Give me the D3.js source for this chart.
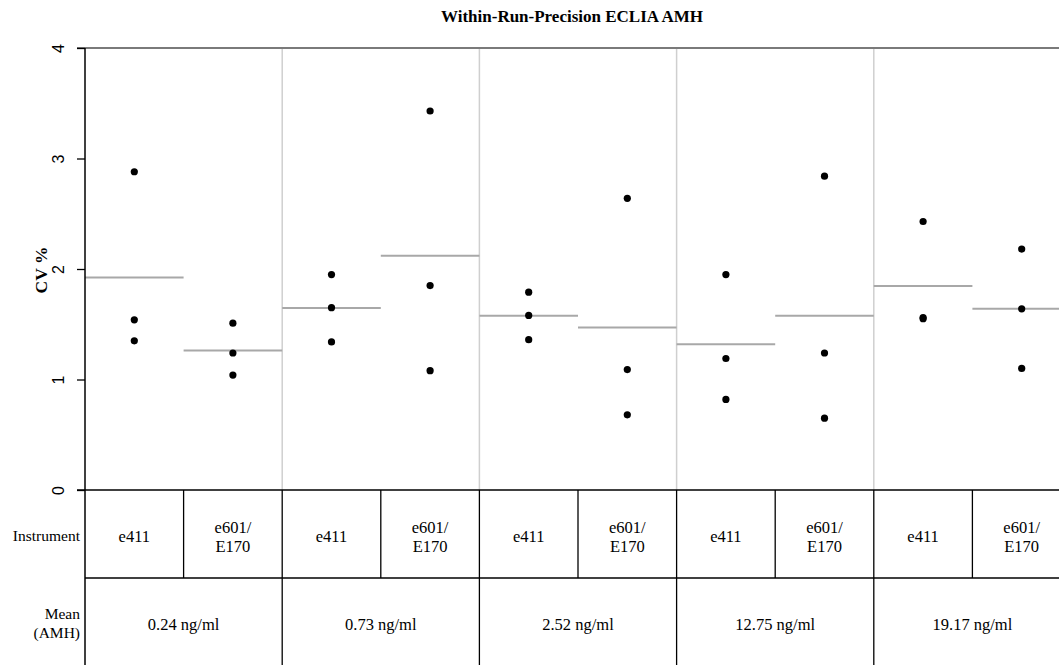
<!DOCTYPE html>
<html>
<head>
<meta charset="utf-8">
<script src="https://cdn.jsdelivr.net/npm/d3@7"></script>
<style>
  body { margin: 0; background: #fff; }
  svg { display: block; }
</style>
</head>
<body>
<svg width="1059" height="665"></svg>
<script>
// values
const concentrations = ["0.24 ng/ml", "0.73 ng/ml", "2.52 ng/ml", "12.75 ng/ml", "19.17 ng/ml"];
const instruments = ["e411", "e601/E170"];
const cvE411 = [[2.88, 1.54, 1.35], [1.95, 1.65, 1.34], [1.79, 1.58, 1.36], [1.95, 1.19, 0.82], [2.43, 1.56, 1.55]];
const cvE601 = [[1.51, 1.24, 1.04], [3.43, 1.85, 1.08], [2.64, 1.09, 0.68], [2.84, 1.24, 0.65], [2.18, 1.64, 1.10]];
const yTicks = [0, 1, 2, 3, 4];

const serif = "'Liberation Serif', 'Times New Roman', serif";
const sans = "'Liberation Sans', Arial, sans-serif";

var svg = d3.select("svg"),
    width = 1059, height = 665,
    plotLeft = 85, plotTop = 48, zeroY = 490, row2Y = 578;

// one column per (concentration, instrument)
var cells = [];
concentrations.forEach((c, gi) => {
  instruments.forEach((ins, ii) => {
    var vals = ii === 0 ? cvE411[gi] : cvE601[gi];
    cells.push({ key: gi + "-" + ii, group: gi, instrument: ins, values: vals, mean: d3.mean(vals) });
  });
});

var x = d3.scaleBand()
    .domain(cells.map(d => d.key))
    .range([plotLeft, plotLeft + 10 * 98.6])
    .padding(0);

var y = d3.scaleLinear().domain([0, 4]).range([zeroY, plotTop]);

// gray separators between concentration groups in plot area
svg.append("g").selectAll("line")
  .data(concentrations.slice(1))
  .enter().append("line")
    .attr("x1", (d, i) => x((i + 1) + "-0"))
    .attr("x2", (d, i) => x((i + 1) + "-0"))
    .attr("y1", plotTop)
    .attr("y2", zeroY)
    .attr("stroke", "#cfcfcf")
    .attr("stroke-width", 1.5);

// mean lines
svg.append("g").selectAll("line")
  .data(cells)
  .enter().append("line")
    .attr("x1", d => x(d.key))
    .attr("x2", d => x(d.key) + x.bandwidth())
    .attr("y1", d => y(d.mean))
    .attr("y2", d => y(d.mean))
    .attr("stroke", "#a8a8a8")
    .attr("stroke-width", 2);

// points
var pts = [];
cells.forEach(c => c.values.forEach(v => pts.push({ key: c.key, v: v })));
svg.append("g").selectAll("circle")
  .data(pts)
  .enter().append("circle")
    .attr("cx", d => x(d.key) + x.bandwidth() / 2)
    .attr("cy", d => y(d.v))
    .attr("r", 3.6)
    .attr("fill", "#000");

// top border
svg.append("line")
  .attr("x1", plotLeft - 8).attr("x2", width)
  .attr("y1", plotTop).attr("y2", plotTop)
  .attr("stroke", "#7a7a7a").attr("stroke-width", 2);

// y axis
var yAxis = svg.append("g")
  .attr("transform", "translate(" + plotLeft + ",0)")
  .call(d3.axisLeft(y).tickValues(yTicks).tickSize(8).tickPadding(0).tickFormat(d3.format("d")));
yAxis.select(".domain").remove();
yAxis.selectAll(".tick line").attr("stroke", "#000").attr("stroke-width", 1.3);
yAxis.selectAll(".tick text")
  .attr("x", 0).attr("dy", null)
  .attr("transform", "translate(-27,0) rotate(-90)")
  .attr("text-anchor", "middle")
  .attr("dominant-baseline", "central")
  .style("font-family", sans)
  .style("font-size", "16px")
  .attr("fill", "#000");

svg.append("line")
  .attr("x1", plotLeft).attr("x2", plotLeft)
  .attr("y1", plotTop).attr("y2", height)
  .attr("stroke", "#000").attr("stroke-width", 1.5);

svg.append("text")
  .attr("transform", "translate(41," + (y(2) + 1) + ") rotate(-90)")
  .attr("text-anchor", "middle")
  .attr("dominant-baseline", "central")
  .style("font-family", serif)
  .style("font-weight", "bold")
  .style("font-size", "17.5px")
  .text("CV %");

// title
svg.append("text")
  .attr("x", (plotLeft + width) / 2)
  .attr("y", 22)
  .attr("text-anchor", "middle")
  .style("font-family", serif)
  .style("font-weight", "bold")
  .style("font-size", "17px")
  .text("Within-Run-Precision ECLIA AMH");

// table below the plot
var table = svg.append("g");
table.append("line")
  .attr("x1", plotLeft - 8).attr("x2", width)
  .attr("y1", zeroY).attr("y2", zeroY)
  .attr("stroke", "#000").attr("stroke-width", 1.5);
table.append("line")
  .attr("x1", plotLeft).attr("x2", width)
  .attr("y1", row2Y).attr("y2", row2Y)
  .attr("stroke", "#000").attr("stroke-width", 1.5);

// instrument row verticals
table.selectAll(".v1")
  .data(cells.slice(1))
  .enter().append("line")
    .attr("x1", d => x(d.key)).attr("x2", d => x(d.key))
    .attr("y1", zeroY).attr("y2", d => d.key.endsWith("-0") ? height : row2Y)
    .attr("stroke", "#000").attr("stroke-width", 1.3);

var insText = table.selectAll(".ins")
  .data(cells)
  .enter().append("text")
    .attr("text-anchor", "middle")
    .style("font-family", serif)
    .style("font-size", "16.5px");
insText.each(function(d) {
  var parts = d.instrument.indexOf("/") >= 0 ? [d.instrument.split("/")[0] + "/", d.instrument.split("/")[1]] : [d.instrument];
  var cx = x(d.key) + x.bandwidth() / 2;
  var cy = 542;
  var t = d3.select(this);
  parts.forEach((p, i) => {
    t.append("tspan")
      .attr("x", cx)
      .attr("y", cy + (i - (parts.length - 1) / 2) * 19)
      .text(p);
  });
});

table.selectAll(".conc")
  .data(concentrations)
  .enter().append("text")
    .attr("x", (d, i) => x(i + "-0") + x.bandwidth())
    .attr("y", 630)
    .attr("text-anchor", "middle")
    .style("font-family", serif)
    .style("font-size", "16.5px")
    .text(d => d);

// row labels
table.append("text")
  .attr("x", 80).attr("y", 541)
  .attr("text-anchor", "end")
  .style("font-family", serif)
  .style("font-size", "15.5px")
  .text("Instrument");
var meanLab = table.append("text")
  .attr("text-anchor", "end")
  .style("font-family", serif)
  .style("font-size", "15.5px");
meanLab.append("tspan").attr("x", 80).attr("y", 619).text("Mean");
meanLab.append("tspan").attr("x", 80).attr("y", 638).text("(AMH)");
</script>
</body>
</html>
